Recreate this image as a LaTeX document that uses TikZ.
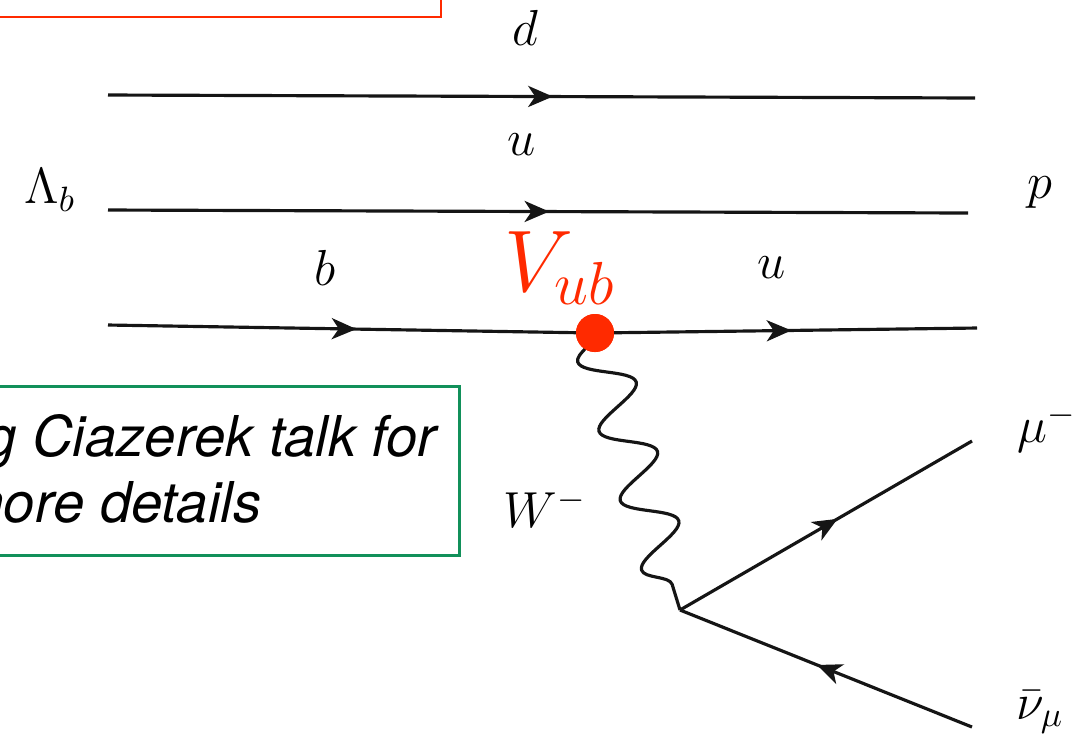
\documentclass[tikz,border=0pt]{standalone}
\usepackage{fontspec}
\setsansfont{TeX Gyre Heros}
\usetikzlibrary{arrows.meta, positioning, calc, decorations.pathmorphing, decorations.markings}
\definecolor{vubRed}{HTML}{FF2A00}
\definecolor{noteGreen}{HTML}{11905A}
\definecolor{lineDark}{HTML}{151515}

\begin{document}
\begin{tikzpicture}[
  x=0.01cm, y=-0.01cm,
  fermion/.style={line width=0.9pt, draw=lineDark, postaction={decorate}, decoration={markings, mark=at position #1 with {\arrow{Stealth[length=7pt, width=6pt, inset=2pt]}}}},
  fermion/.default=0.513,
  antifermion/.style={line width=0.9pt, draw=lineDark, postaction={decorate}, decoration={markings, mark=at position #1 with {\arrowreversed{Stealth[length=7pt, width=6pt, inset=2pt]}}}},
  antifermion/.default=0.47,
  boson/.style={line width=0.9pt, draw=lineDark, decorate, decoration={snake, segment length=0.725cm, amplitude=0.25cm, mirror}},
  lbl/.style={font=\fontsize{14}{16}\selectfont, inner sep=0pt},
  vertexdot/.style={circle, fill=vubRed, minimum size=0.38cm, inner sep=0pt},
  notetext/.style={font=\sffamily\itshape\fontsize{16}{19}\selectfont, inner sep=0pt},
  redframe/.style={draw=vubRed, line width=0.7pt},
  greenframe/.style={draw=noteGreen, line width=0.85pt}
]
\useasboundingbox (0,0) rectangle (1091,735);
\clip (0,0) rectangle (1091,735);

\coordinate (din) at (108,95);
\coordinate (dout) at (975,98);
\coordinate (uin) at (108,210);
\coordinate (uout) at (968,213);
\coordinate (bin) at (108,325);
\coordinate (uout2) at (977,328);
\coordinate (wv) at (680,610);
\coordinate (muout) at (972,441);
\coordinate (nuout) at (972,727);
\node[vertexdot] (vtx) at (595,333) {};

\draw[fermion] (din) -- (dout);
\draw[fermion] (uin) -- (uout);
\draw[fermion=0.51] (bin) -- (vtx.center);
\draw[fermion=0.514] (vtx.center) -- (uout2);
\draw[boson] (vtx.center) -- (wv);
\draw[fermion=0.54] (wv) -- (muout);
\draw[antifermion] (wv) -- (nuout);
\node[vertexdot] at (vtx) {};

\node[lbl] (dlab) at (525,28) {$d$};
\node[lbl] (ulab) at (522,145) {$u$};
\node[lbl] (blab) at (325,268) {$b$};
\node[lbl] (ulab2) at (772,268) {$u$};
\node[lbl] (lamlab) at (50,190) {$\Lambda_b$};
\node[lbl] (plab) at (1040,193) {$p$};
\node[lbl] (mulab) at (1047,428) {$\mu^-$};
\node[lbl] (nulab) at (1040,712) {$\bar\nu_\mu$};
\node[lbl] (wlab) at (545,508) {$W^-$};
\node[font=\fontsize{26}{29}\selectfont, text=vubRed, inner sep=0pt] (vub) at (560,268) {$V_{ub}$};

\draw[redframe] (-20,-20) rectangle (441,17);

\draw[greenframe] (-20,386) rectangle (459,555);
\node[notetext, anchor=base east] (note1) at (437,456) {g Ciazerek talk for};
\node[notetext, anchor=base east] (note2) at (262,522) {more details};
\end{tikzpicture}
\end{document}
